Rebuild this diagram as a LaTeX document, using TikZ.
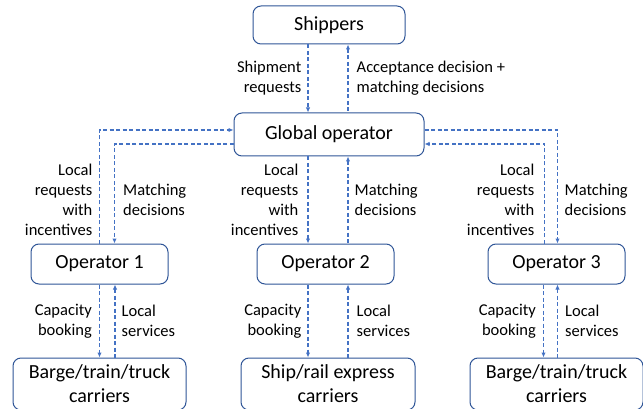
\documentclass[tikz,border=0pt]{standalone}
\usepackage{fontspec}
\setmainfont{Carlito}
\usetikzlibrary{arrows.meta,positioning,calc}
\definecolor{boxblue}{HTML}{2F5597}
\definecolor{arrowblue}{HTML}{4472C4}
\tikzset{
    agent/.style={
           rectangle,
           rounded corners=8pt,
           draw=boxblue, line width=1pt,
           fill=white,
           align=center,
           inner sep=0pt,
           font=\fontsize{20}{24}\selectfont,
           },
    flow/.style={
           arrowblue, line width=1.4pt,
           dash pattern=on 4pt off 2.5pt,
           },
    lbl/.style={
           inner sep=0pt,
           text=black,
           font=\fontsize{16.5}{20}\selectfont,
           },
}

\begin{document}
\begin{tikzpicture}[x=1pt,y=-1pt,>={Latex[length=5pt,width=4.5pt]}]
	\useasboundingbox (0,0) rectangle (643,409);

	\node[agent,minimum width=190pt,minimum height=43pt] (glob) at (329,134.5) {Global operator};
	\node[agent,minimum width=152pt,minimum height=38pt] (ship) [above=68pt of glob] {Shippers};
	\node[agent,minimum width=137pt,minimum height=40pt] (op2) [below=87pt of glob,xshift=-3.5pt] {Operator 2};
	\node[agent,minimum width=137pt,minimum height=40pt] (op1) [left=88pt of op2] {Operator 1};
	\node[agent,minimum width=137pt,minimum height=40pt] (op3) [right=93pt of op2] {Operator 3};
	\node[agent,minimum width=173pt,minimum height=52pt] (car1) [below=73pt of op1] {Barge/train/truck\\carriers};
	\node[agent,minimum width=174pt,minimum height=52pt] (car2) [below=73pt of op2,xshift=2.5pt] {Ship/rail express\\carriers};
	\node[agent,minimum width=173pt,minimum height=52pt] (car3) [below=73pt of op3] {Barge/train/truck\\carriers};

	% shippers <-> global operator
	\draw[flow,->] ([xshift=-21pt]ship.south) -- ([xshift=-21pt]ship.south |- glob.north)
		node[lbl,midway,left=6pt,align=right] (lship) {Shipment\\requests};
	\draw[flow,<-] ([xshift=19pt]ship.south) -- ([xshift=19pt]ship.south |- glob.north)
		node[lbl,midway,right=8pt,align=left] (lacc) {Acceptance decision +\\matching decisions};

	% global operator <-> operators
	\draw[flow,->] (op1.north) |- ([yshift=4.5pt]glob.west);
	\draw[flow,->] ([yshift=-9.5pt]glob.west) -| ([xshift=15pt]op1.north);
	\coordinate (mid1) at ($(op1.north)!0.5!(op1.north |- glob.south)$);
	\node[lbl,left=7pt of mid1,align=right] (lreq1) {Local\\requests\\with\\incentives};
	\node[lbl,right=23.5pt of mid1,align=left] (lmat1) {Matching\\decisions};

	\draw[flow,->] ([xshift=-21pt]glob.south) -- ([xshift=-21pt]glob.south |- op2.north)
		node[lbl,midway,left=9pt,align=right] (lreq2) {Local\\requests\\with\\incentives};
	\draw[flow,<-] ([xshift=19pt]glob.south) -- ([xshift=19pt]glob.south |- op2.north)
		node[lbl,midway,right=6pt,align=left] (lmat2) {Matching\\decisions};

	\draw[flow,->] ([yshift=4.5pt]glob.east) -| ([xshift=1pt]op3.north);
	\draw[flow,->] ([xshift=-12pt]op3.north) |- ([yshift=-9.5pt]glob.east);
	\coordinate (mid3) at ($(op3.north)!0.5!(op3.north |- glob.south)$);
	\node[lbl,left=22pt of mid3,align=right] (lreq3) {Local\\requests\\with\\incentives};
	\node[lbl,right=8pt of mid3,align=left] (lmat3) {Matching\\decisions};

	% operators <-> carriers
	\draw[flow,->] (op1.south) -- (op1.south |- car1.north)
		node[lbl,midway,left=7pt,align=right] (lcap1) {Capacity\\booking};
	\draw[flow,<-] ([xshift=15.5pt]op1.south) -- ([xshift=15.5pt]op1.south |- car1.north)
		node[lbl,midway,right=6pt,align=left] (lsrv1) {Local\\services};

	\draw[flow,->] ([xshift=-17.5pt]op2.south) -- ([xshift=-17.5pt]op2.south |- car2.north)
		node[lbl,midway,left=6pt,align=right] (lcap2) {Capacity\\booking};
	\draw[flow,<-] ([xshift=22.5pt]op2.south) -- ([xshift=22.5pt]op2.south |- car2.north)
		node[lbl,midway,right=8pt,align=left] (lsrv2) {Local\\services};

	\draw[flow,->] ([xshift=-13pt]op3.south) -- ([xshift=-13pt]op3.south |- car3.north)
		node[lbl,midway,left=7pt,align=right] (lcap3) {Capacity\\booking};
	\draw[flow,<-] ([xshift=1pt]op3.south) -- ([xshift=1pt]op3.south |- car3.north)
		node[lbl,midway,right=7pt,align=left] (lsrv3) {Local\\services};

\end{tikzpicture}
\end{document}
